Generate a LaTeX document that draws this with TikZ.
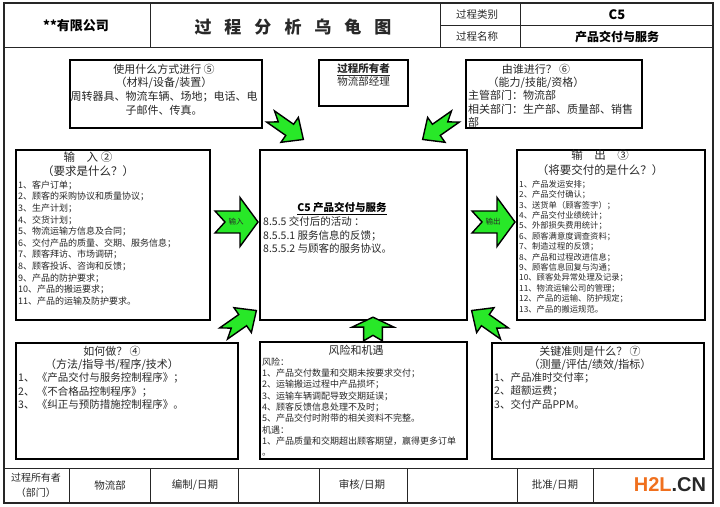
\documentclass[tikz,border=0pt]{standalone}
\usepackage{fontspec}
\setmainfont{Noto Sans CJK SC}
\newfontfamily\wmfont{Liberation Sans}
\usetikzlibrary{positioning}
\newcommand{\fsz}[2]{\fontsize{#1}{#2}\selectfont}
\definecolor{arrowgreen}{RGB}{40,232,40}
\definecolor{textgray}{RGB}{40,40,40}
\definecolor{wmorange}{RGB}{240,112,30}

\begin{document}
\begin{tikzpicture}[
            x=1pt, y=1pt,
            every node/.style={inner sep=0pt, text=textgray},
            box/.style={draw=black, line width=1.1pt, fill=white},
            frameline/.style={draw=black!85, line width=0.9pt},
            arrowline/.style={draw=black, line width=1.4pt, fill=arrowgreen, line join=miter},
            listtext/.style={anchor=north west, align=left},
            headtext/.style={anchor=north, align=center},
            fatarrow/.pic={
                \draw[arrowline] (-21.5,-11) -- (3.5,-11) -- (3.5,-24.5) -- (21.5,0) -- (3.5,24.5) -- (3.5,11) -- (-21.5,11) -- (-11.5,0) -- cycle;
            }
        ]
            \useasboundingbox (0,0) rectangle (720,506);
            % frame, header and footer
            \draw[frameline, line width=1.2pt] (4,3) rectangle (713,503);
            \draw[frameline] (4,459) -- (713,459);
            \draw[frameline] (440,481) -- (713,481);
            \foreach \x in {150,440,520}
                \draw[frameline] (\x,459) -- (\x,503);
            \draw[frameline] (4,38) -- (713,38);
            \foreach \x in {69,150,238,319,407,517,593}
                \draw[frameline] (\x,3) -- (\x,38);

            \node (company) [font=\fsz{13}{15}\bfseries, text=black] at (76,480) {**有限公司};
            \node (title) [font=\fsz{17}{20}\bfseries] at (293,479) {过\hspace{13pt}程\hspace{13pt}分\hspace{13pt}析\hspace{13pt}乌\hspace{13pt}龟\hspace{13pt}图};
            \node (catlabel) [font=\fsz{10.5}{12}] at (477,491) {过程类别};
            \node (namelabel) [font=\fsz{10.5}{12}] at (477,469) {过程名称};
            \node (catvalue) [font=\fsz{13}{15}\bfseries, text=black] at (617,491) {C5};
            \node (namevalue) [font=\fsz{12}{14}\bfseries, text=black] at (617,469) {产品交付与服务};

            % boxes
            \node (waybox) [box, minimum width=192pt, minimum height=68pt] at (166,412) {};
            \node (ownerbox) [box, minimum width=89pt, minimum height=46pt] at (363.5,423) {};
            \node (whobox) [box, minimum width=176pt, minimum height=68pt] at (554,412) {};
            \node (inbox) [box, minimum width=194pt, minimum height=170pt] at (113,271) {};
            \node (procbox) [box, minimum width=207pt, minimum height=170pt] at (363.5,271) {};
            \node (outbox) [box, minimum width=188pt, minimum height=170pt] at (611,271) {};
            \node (howbox) [box, minimum width=222pt, minimum height=116pt] at (127,105) {};
            \node (riskbox) [box, minimum width=207pt, minimum height=117pt] at (363.5,105.5) {};
            \node (keybox) [box, minimum width=212pt, minimum height=116pt] at (598,105) {};

            % box texts
            \node (waytext) [headtext, font=\fsz{11}{13.7}] at (164,442.5)
                {使用什么方式进行 ⑤\\（材料/设备/装置）\\周转器具、物流车辆、场地；电话、电\\子邮件、传真。};
            \node (ownertext) [headtext, font=\fsz{10.5}{13}] at (363.5,442.5)
                {{\bfseries\underline{过程所有者}}\\物流部经理};
            \node (whohead) [headtext, font=\fsz{11}{13.5}] at (536,442.5)
                {由谁进行？ ⑥\\（能力/技能/资格）};
            \node (whobody) [listtext, font=\fsz{11}{13.5}] at (468,415.5)
                {主管部门：物流部\\相关部门：生产部、质量部、销售\\部};

            \node (inhead) [headtext, font=\fsz{11.5}{14}] at (88,354.5)
                {输\hspace{1em}入 ②\\（要求是什么？）};
            \node (inlist) [listtext, font=\fsz{9}{11.6}] at (18,325.5)
                {1、客户订单；\\2、顾客的采购协议和质量协议；\\3、生产计划；\\4、交货计划；\\5、物流运输方信息及合同；\\6、交付产品的质量、交期、服务信息；\\7、顾客拜访、市场调研；\\8、顾客投诉、咨询和反馈；\\9、产品的防护要求；\\10、产品的搬运要求；\\11、产品的运输及防护要求。};

            \node (proctitle) [font=\fsz{10.5}{13}\bfseries, text=black] at (342,297) {\underline{C5 产品交付与服务}};
            \node (proclist) [listtext, font=\fsz{10.5}{13.5}] at (263,289.3)
                {8.5.5 交付后的活动 ：\\8.5.5.1 服务信息的反馈；\\8.5.5.2 与顾客的服务协议。};

            \node (outhead) [headtext, font=\fsz{11.5}{15.5}] at (600,356.5)
                {输\hspace{1em}出\hspace{1em}③\\（将要交付的是什么？）};
            \node (outlist) [listtext, font=\fsz{8.3}{10.4}] at (519,326)
                {1、产品发运安排；\\2、产品交付确认；\\3、送货单（顾客签字）；\\4、产品交付业绩统计；\\5、外部损失费用统计；\\6、顾客满意度调查资料；\\7、制造过程的反馈；\\8、产品和过程改进信息；\\9、顾客信息回复与沟通；\\10、顾客处异常处理及记录；\\11、物流运输公司的管理；\\12、产品的运输、防护规定；\\13、产品的搬运规范。};

            \node (howhead) [headtext, font=\fsz{11}{13.5}] at (112,160.5)
                {如何做？ ④\\（方法/指导书/程序/技术）};
            \node (howlist) [listtext, font=\fsz{10.5}{13.5}] at (18,133.5)
                {1、 《产品交付与服务控制程序》；\\2、 《不合格品控制程序》；\\3、 《纠正与预防措施控制程序》。};

            \node (riskhead) [font=\fsz{11}{13}] at (356,156) {风险和机遇};
            \node (risklist) [listtext, font=\fsz{9}{11.3}] at (262,148.5)
                {风险：\\1、产品交付数量和交期未按要求交付；\\2、运输搬运过程中产品损坏；\\3、运输车辆调配导致交期延误；\\4、顾客反馈信息处理不及时；\\5、产品交付时附带的相关资料不完整。\\机遇：\\1、产品质量和交期超出顾客期望，赢得更多订单\\。};

            \node (keyhead) [headtext, font=\fsz{11}{13}] at (590,160.5)
                {关键准则是什么？ ⑦\\（测量/评估/绩效/指标）};
            \node (keylist) [listtext, font=\fsz{10.5}{13.5}] at (494,134)
                {1、产品准时交付率；\\2、超额运费；\\3、交付产品PPM。};

            % arrows
            \pic (wayarrow) [rotate=-35, xscale=0.93, yscale=0.62] at (287,378) {fatarrow};
            \pic (whoarrow) [rotate=-145, xscale=0.93, yscale=0.62] at (439,378) {fatarrow};
            \pic (inarrow) at (236.5,284) {fatarrow};
            \pic (outarrow) at (493.5,284) {fatarrow};
            \pic (howarrow) [rotate=35, xscale=0.93, yscale=0.62] at (240,184) {fatarrow};
            \pic (riskarrow) [rotate=90, xscale=0.55, yscale=0.85] at (373,177) {fatarrow};
            \pic (keyarrow) [rotate=145, xscale=0.93, yscale=0.62] at (488,184) {fatarrow};
            \node (inlabel) [font=\fsz{7.5}{9}] at (236,284) {输入};
            \node (outlabel) [font=\fsz{7.5}{9}] at (493,284) {输出};

            % footer
            \node (ownerlabel) [align=center, font=\fsz{10}{15}] at (36,21) {过程所有者\\（部门）};
            \node (dept) [font=\fsz{10.5}{12}] at (110,21) {物流部};
            \node (compiled) [font=\fsz{10.5}{12}] at (195,21) {编制/日期};
            \node (checked) [font=\fsz{10.5}{12}] at (362,21) {审核/日期};
            \node (approved) [font=\fsz{10.5}{12}] at (555,21) {批准/日期};
            \node (watermark) [font=\wmfont\fsz{20}{22}\bfseries] at (670,21) {\textcolor{wmorange}{H2L}\textcolor{textgray}{.CN}};
        \end{tikzpicture}
\end{document}
